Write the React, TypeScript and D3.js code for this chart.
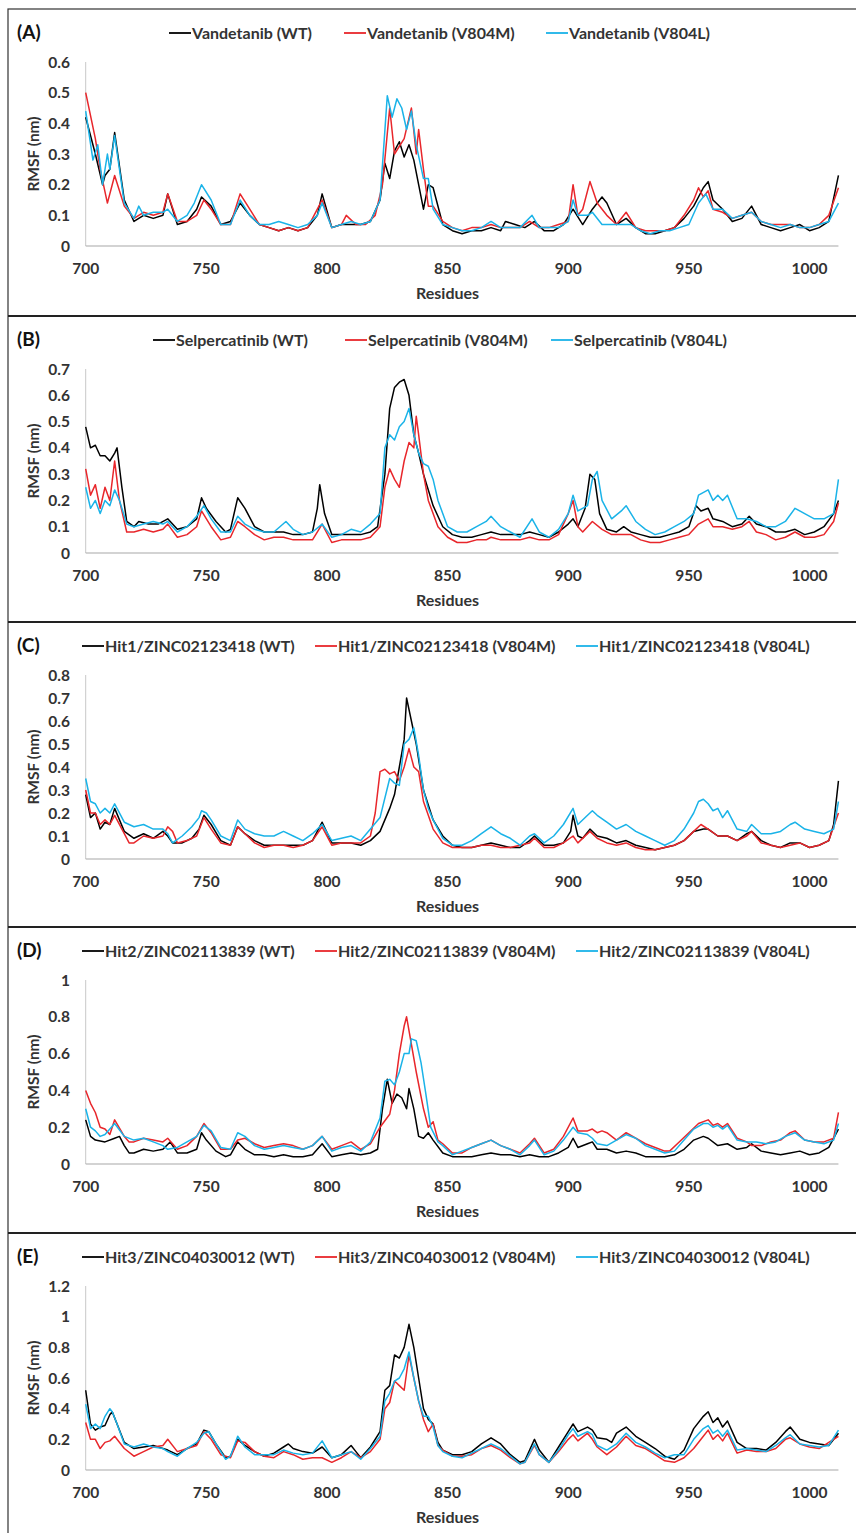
import * as d3 from "d3";
import { useEffect, useRef } from "react";

type Pt = [number, number];

// Residue / RMSF (nm) pairs
const vanWT: Pt[] = [[700,0.42],[704,0.3],[707,0.2],[708,0.23],[710,0.25],[712,0.37],[716,0.15],[720,0.08],[724,0.1],[728,0.09],[732,0.1],[734,0.17],[738,0.07],[742,0.08],[746,0.12],[748,0.16],[752,0.13],[756,0.07],[760,0.08],[764,0.14],[768,0.1],[772,0.07],[776,0.06],[780,0.05],[784,0.06],[788,0.05],[792,0.06],[796,0.1],[798,0.17],[802,0.06],[806,0.07],[810,0.07],[814,0.07],[818,0.08],[822,0.15],[824,0.27],[826,0.22],[828,0.31],[830,0.34],[832,0.29],[834,0.33],[836,0.28],[838,0.2],[840,0.12],[842,0.2],[844,0.19],[848,0.07],[852,0.05],[856,0.04],[860,0.05],[864,0.05],[868,0.06],[872,0.05],[874,0.08],[878,0.07],[882,0.06],[886,0.08],[890,0.05],[894,0.05],[898,0.07],[902,0.12],[906,0.07],[910,0.12],[914,0.16],[916,0.14],[920,0.07],[924,0.09],[928,0.06],[932,0.04],[936,0.04],[940,0.05],[944,0.06],[948,0.09],[952,0.13],[956,0.19],[958,0.21],[960,0.15],[964,0.12],[968,0.08],[972,0.09],[976,0.13],[980,0.07],[984,0.06],[988,0.05],[992,0.06],[996,0.07],[1000,0.05],[1004,0.06],[1008,0.08],[1012,0.23]];
const vanM: Pt[] = [[700,0.5],[704,0.35],[706,0.25],[709,0.14],[712,0.23],[716,0.13],[720,0.09],[724,0.11],[728,0.1],[732,0.11],[734,0.17],[738,0.08],[742,0.08],[746,0.1],[749,0.15],[752,0.12],[756,0.07],[760,0.07],[764,0.17],[768,0.12],[772,0.07],[776,0.06],[780,0.05],[784,0.06],[788,0.05],[792,0.06],[796,0.12],[798,0.15],[802,0.06],[806,0.07],[808,0.1],[812,0.07],[816,0.07],[820,0.1],[823,0.2],[826,0.45],[828,0.3],[832,0.35],[835,0.45],[837,0.3],[838,0.38],[840,0.25],[842,0.13],[844,0.13],[848,0.08],[852,0.06],[856,0.05],[860,0.06],[864,0.06],[868,0.07],[872,0.06],[876,0.06],[880,0.06],[884,0.08],[888,0.06],[892,0.06],[896,0.07],[900,0.08],[902,0.2],[904,0.1],[906,0.12],[909,0.21],[912,0.14],[916,0.1],[920,0.07],[924,0.11],[928,0.06],[932,0.05],[936,0.05],[940,0.05],[944,0.06],[948,0.1],[952,0.15],[954,0.19],[956,0.16],[958,0.18],[960,0.12],[964,0.11],[968,0.09],[972,0.1],[976,0.11],[980,0.08],[984,0.07],[988,0.07],[992,0.07],[996,0.06],[1000,0.06],[1004,0.07],[1008,0.1],[1012,0.19]];
const vanL: Pt[] = [[700,0.44],[703,0.28],[705,0.33],[707,0.2],[709,0.3],[710,0.25],[712,0.36],[716,0.14],[720,0.09],[722,0.13],[724,0.1],[728,0.11],[732,0.11],[734,0.12],[738,0.08],[742,0.1],[745,0.14],[748,0.2],[752,0.15],[756,0.07],[760,0.07],[764,0.15],[768,0.1],[772,0.07],[776,0.07],[780,0.08],[784,0.07],[788,0.06],[792,0.07],[796,0.1],[798,0.14],[802,0.06],[806,0.07],[810,0.08],[814,0.07],[818,0.08],[822,0.15],[825,0.49],[827,0.42],[829,0.48],[831,0.45],[833,0.38],[835,0.44],[837,0.33],[840,0.22],[842,0.22],[844,0.12],[848,0.07],[852,0.06],[856,0.05],[860,0.05],[864,0.06],[868,0.08],[872,0.06],[876,0.06],[880,0.06],[885,0.1],[888,0.06],[892,0.06],[896,0.06],[900,0.08],[902,0.15],[904,0.1],[908,0.1],[910,0.11],[914,0.07],[918,0.07],[922,0.07],[926,0.07],[930,0.05],[934,0.04],[938,0.05],[942,0.05],[946,0.06],[950,0.07],[954,0.14],[957,0.17],[960,0.12],[964,0.12],[968,0.09],[972,0.1],[976,0.11],[980,0.08],[984,0.07],[988,0.06],[992,0.07],[996,0.06],[1000,0.06],[1004,0.07],[1008,0.08],[1012,0.14]];

const selWT: Pt[] = [[700,0.48],[702,0.4],[704,0.41],[706,0.37],[708,0.37],[710,0.35],[712,0.38],[713,0.4],[715,0.25],[717,0.12],[720,0.1],[722,0.12],[726,0.11],[730,0.11],[734,0.13],[738,0.09],[742,0.1],[746,0.13],[748,0.21],[750,0.17],[754,0.12],[758,0.08],[760,0.09],[763,0.21],[766,0.17],[770,0.1],[774,0.08],[778,0.08],[782,0.08],[786,0.07],[790,0.07],[794,0.08],[796,0.17],[797,0.26],[799,0.15],[802,0.07],[806,0.07],[810,0.07],[814,0.07],[818,0.08],[821,0.1],[824,0.3],[826,0.55],[828,0.63],[830,0.65],[832,0.66],[834,0.6],[836,0.45],[838,0.38],[840,0.3],[844,0.18],[848,0.1],[852,0.07],[856,0.06],[860,0.06],[864,0.07],[868,0.08],[872,0.07],[876,0.07],[880,0.07],[884,0.08],[888,0.07],[892,0.06],[896,0.08],[900,0.11],[902,0.13],[904,0.1],[907,0.17],[909,0.3],[911,0.28],[913,0.15],[916,0.09],[920,0.08],[923,0.1],[926,0.08],[930,0.07],[934,0.06],[938,0.06],[942,0.07],[946,0.08],[950,0.1],[953,0.18],[955,0.16],[958,0.17],[960,0.13],[964,0.12],[968,0.1],[972,0.11],[975,0.14],[978,0.11],[982,0.1],[986,0.08],[990,0.08],[994,0.09],[998,0.07],[1002,0.08],[1006,0.1],[1010,0.15],[1012,0.2]];
const selM: Pt[] = [[700,0.32],[702,0.22],[704,0.26],[706,0.17],[708,0.25],[710,0.2],[712,0.35],[714,0.2],[717,0.08],[720,0.08],[724,0.09],[728,0.08],[732,0.09],[734,0.11],[738,0.06],[742,0.07],[746,0.1],[748,0.16],[752,0.1],[756,0.05],[760,0.06],[763,0.12],[766,0.1],[770,0.07],[774,0.05],[778,0.06],[782,0.06],[786,0.05],[790,0.05],[794,0.05],[798,0.11],[802,0.04],[806,0.05],[810,0.05],[814,0.05],[818,0.06],[822,0.1],[824,0.25],[826,0.32],[828,0.28],[830,0.25],[832,0.35],[834,0.42],[836,0.4],[837,0.52],[838,0.45],[840,0.3],[842,0.2],[846,0.1],[850,0.06],[854,0.04],[858,0.04],[862,0.05],[866,0.05],[868,0.06],[872,0.05],[876,0.05],[880,0.05],[884,0.06],[888,0.05],[892,0.05],[896,0.07],[900,0.15],[902,0.2],[904,0.1],[906,0.08],[910,0.12],[914,0.09],[918,0.07],[922,0.07],[926,0.07],[930,0.05],[934,0.04],[938,0.04],[942,0.05],[946,0.06],[950,0.07],[954,0.11],[958,0.13],[960,0.1],[964,0.1],[968,0.09],[972,0.1],[975,0.12],[978,0.08],[982,0.07],[986,0.05],[990,0.06],[994,0.08],[998,0.06],[1002,0.06],[1006,0.07],[1010,0.12],[1012,0.19]];
const selL: Pt[] = [[700,0.25],[702,0.17],[704,0.2],[706,0.15],[708,0.2],[710,0.18],[712,0.24],[714,0.2],[717,0.11],[720,0.1],[724,0.11],[728,0.12],[732,0.11],[734,0.12],[738,0.08],[742,0.1],[746,0.14],[749,0.18],[752,0.13],[756,0.08],[760,0.08],[763,0.14],[766,0.11],[770,0.09],[774,0.08],[778,0.08],[783,0.12],[786,0.09],[790,0.07],[794,0.08],[798,0.11],[802,0.06],[806,0.07],[810,0.09],[814,0.08],[818,0.11],[822,0.15],[824,0.4],[826,0.45],[828,0.43],[830,0.48],[832,0.5],[834,0.55],[836,0.45],[838,0.38],[840,0.34],[842,0.33],[844,0.28],[846,0.2],[850,0.1],[854,0.08],[858,0.08],[862,0.1],[866,0.12],[868,0.14],[872,0.1],[876,0.08],[880,0.06],[885,0.13],[888,0.08],[892,0.06],[896,0.09],[900,0.15],[902,0.22],[904,0.16],[908,0.18],[910,0.28],[912,0.31],[914,0.2],[918,0.13],[922,0.16],[924,0.18],[928,0.12],[932,0.09],[936,0.07],[940,0.08],[944,0.1],[948,0.12],[952,0.15],[954,0.22],[958,0.24],[960,0.2],[962,0.22],[964,0.2],[966,0.22],[970,0.13],[974,0.13],[978,0.12],[982,0.1],[986,0.1],[990,0.12],[994,0.17],[998,0.15],[1002,0.13],[1006,0.13],[1010,0.15],[1012,0.28]];

const hit1WT: Pt[] = [[700,0.28],[702,0.18],[704,0.2],[706,0.13],[708,0.16],[710,0.15],[712,0.22],[716,0.12],[720,0.09],[724,0.11],[728,0.09],[732,0.12],[734,0.1],[736,0.07],[740,0.07],[744,0.09],[747,0.13],[749,0.19],[752,0.15],[756,0.08],[760,0.06],[763,0.14],[766,0.11],[770,0.08],[774,0.06],[778,0.06],[782,0.06],[786,0.06],[790,0.06],[794,0.08],[798,0.16],[802,0.07],[806,0.07],[810,0.07],[814,0.06],[818,0.08],[822,0.12],[826,0.22],[828,0.28],[830,0.4],[832,0.52],[833,0.7],[835,0.6],[837,0.5],[840,0.3],[844,0.17],[848,0.1],[852,0.06],[856,0.05],[860,0.05],[864,0.06],[868,0.07],[872,0.06],[876,0.05],[880,0.05],[884,0.08],[886,0.1],[890,0.06],[894,0.06],[898,0.07],[901,0.12],[902,0.19],[904,0.1],[906,0.09],[909,0.13],[912,0.1],[916,0.09],[920,0.07],[924,0.08],[928,0.06],[932,0.05],[936,0.04],[940,0.05],[944,0.06],[948,0.08],[952,0.12],[956,0.13],[958,0.13],[962,0.1],[966,0.1],[970,0.08],[974,0.11],[976,0.12],[980,0.08],[984,0.06],[988,0.05],[992,0.07],[996,0.07],[1000,0.05],[1004,0.06],[1008,0.08],[1010,0.15],[1012,0.34]];
const hit1M: Pt[] = [[700,0.3],[702,0.2],[704,0.2],[706,0.15],[708,0.17],[710,0.15],[712,0.19],[716,0.11],[718,0.07],[720,0.07],[724,0.1],[728,0.09],[732,0.1],[734,0.14],[736,0.12],[738,0.07],[742,0.08],[746,0.1],[749,0.18],[752,0.13],[756,0.07],[760,0.06],[763,0.14],[766,0.11],[770,0.07],[774,0.05],[778,0.06],[782,0.06],[786,0.05],[790,0.06],[794,0.08],[798,0.14],[802,0.06],[806,0.07],[810,0.07],[814,0.07],[818,0.1],[820,0.2],[822,0.38],[824,0.39],[826,0.37],[828,0.38],[830,0.34],[832,0.4],[834,0.48],[836,0.4],[838,0.38],[840,0.25],[844,0.13],[848,0.07],[852,0.05],[856,0.05],[860,0.05],[864,0.06],[868,0.06],[872,0.05],[876,0.05],[880,0.06],[884,0.07],[886,0.09],[890,0.05],[894,0.05],[898,0.07],[902,0.1],[904,0.07],[909,0.12],[912,0.09],[916,0.07],[920,0.06],[924,0.07],[928,0.05],[932,0.04],[936,0.04],[940,0.05],[944,0.06],[948,0.08],[952,0.12],[955,0.15],[958,0.13],[962,0.1],[966,0.1],[970,0.08],[974,0.1],[976,0.12],[980,0.07],[984,0.06],[988,0.05],[992,0.06],[996,0.07],[1000,0.05],[1004,0.06],[1008,0.08],[1010,0.14],[1012,0.2]];
const hit1L: Pt[] = [[700,0.35],[702,0.25],[704,0.24],[706,0.2],[708,0.22],[710,0.2],[712,0.24],[716,0.16],[720,0.14],[724,0.15],[728,0.13],[732,0.13],[734,0.11],[736,0.07],[740,0.1],[744,0.14],[747,0.18],[748,0.21],[750,0.2],[752,0.17],[756,0.1],[760,0.08],[763,0.17],[766,0.13],[770,0.11],[774,0.1],[778,0.1],[782,0.12],[786,0.1],[790,0.08],[794,0.11],[798,0.15],[802,0.08],[806,0.09],[810,0.1],[814,0.08],[818,0.13],[822,0.18],[826,0.35],[828,0.33],[830,0.32],[832,0.5],[834,0.52],[836,0.57],[838,0.45],[840,0.3],[842,0.22],[844,0.17],[848,0.09],[852,0.06],[856,0.06],[860,0.08],[864,0.11],[868,0.14],[872,0.11],[876,0.09],[880,0.06],[884,0.1],[886,0.11],[890,0.07],[894,0.1],[898,0.15],[902,0.22],[904,0.15],[908,0.19],[910,0.21],[912,0.19],[916,0.16],[920,0.13],[924,0.15],[928,0.12],[932,0.1],[936,0.08],[940,0.06],[944,0.08],[948,0.13],[952,0.2],[954,0.25],[956,0.26],[958,0.24],[960,0.21],[962,0.22],[964,0.18],[966,0.21],[970,0.13],[974,0.12],[976,0.15],[980,0.11],[984,0.11],[988,0.12],[992,0.15],[994,0.16],[998,0.13],[1002,0.12],[1006,0.11],[1010,0.13],[1012,0.25]];

const hit2WT: Pt[] = [[700,0.24],[702,0.15],[704,0.13],[708,0.12],[712,0.14],[714,0.15],[716,0.1],[718,0.06],[720,0.06],[724,0.08],[728,0.07],[732,0.08],[735,0.12],[738,0.06],[742,0.06],[746,0.08],[748,0.17],[750,0.13],[754,0.07],[758,0.04],[760,0.05],[763,0.12],[766,0.08],[770,0.05],[774,0.05],[778,0.04],[782,0.05],[786,0.04],[790,0.04],[794,0.05],[798,0.11],[802,0.04],[806,0.05],[810,0.06],[814,0.05],[818,0.06],[821,0.08],[823,0.3],[825,0.46],[827,0.33],[829,0.38],[831,0.36],[833,0.3],[834,0.41],[836,0.3],[838,0.15],[840,0.14],[842,0.17],[844,0.13],[848,0.06],[852,0.04],[856,0.04],[860,0.04],[864,0.05],[868,0.06],[872,0.05],[876,0.05],[880,0.04],[884,0.05],[888,0.04],[892,0.04],[896,0.06],[900,0.09],[902,0.14],[904,0.09],[908,0.11],[910,0.12],[912,0.08],[916,0.08],[920,0.06],[924,0.07],[928,0.06],[932,0.04],[936,0.04],[940,0.04],[944,0.05],[948,0.08],[952,0.13],[956,0.15],[958,0.14],[962,0.1],[966,0.11],[970,0.08],[974,0.09],[976,0.11],[980,0.07],[984,0.06],[988,0.05],[992,0.06],[996,0.07],[1000,0.05],[1004,0.06],[1008,0.09],[1012,0.19]];
const hit2M: Pt[] = [[700,0.4],[702,0.33],[704,0.28],[706,0.2],[708,0.19],[710,0.16],[712,0.24],[716,0.15],[718,0.12],[720,0.12],[724,0.14],[728,0.13],[732,0.12],[734,0.14],[738,0.08],[742,0.1],[746,0.15],[749,0.22],[752,0.17],[756,0.08],[760,0.08],[763,0.13],[766,0.14],[770,0.11],[774,0.09],[778,0.1],[782,0.11],[786,0.1],[790,0.08],[794,0.1],[798,0.15],[802,0.08],[806,0.1],[810,0.12],[814,0.08],[818,0.11],[822,0.2],[826,0.27],[828,0.4],[830,0.6],[832,0.75],[833,0.8],[835,0.65],[837,0.5],[840,0.3],[842,0.2],[844,0.23],[846,0.13],[848,0.11],[852,0.06],[856,0.06],[860,0.09],[864,0.11],[868,0.13],[872,0.1],[876,0.08],[880,0.06],[884,0.11],[886,0.14],[890,0.06],[894,0.08],[898,0.15],[902,0.25],[904,0.18],[908,0.18],[910,0.19],[912,0.17],[914,0.18],[916,0.17],[920,0.13],[924,0.17],[928,0.14],[932,0.11],[936,0.09],[940,0.07],[942,0.07],[946,0.12],[950,0.17],[954,0.22],[958,0.24],[960,0.21],[962,0.22],[964,0.2],[966,0.22],[970,0.14],[974,0.12],[976,0.1],[980,0.1],[984,0.12],[988,0.13],[992,0.17],[994,0.18],[998,0.13],[1002,0.12],[1006,0.12],[1010,0.14],[1012,0.28]];
const hit2L: Pt[] = [[700,0.3],[702,0.2],[704,0.18],[706,0.15],[708,0.16],[712,0.22],[716,0.15],[720,0.13],[724,0.14],[728,0.12],[732,0.1],[734,0.08],[738,0.09],[742,0.12],[746,0.15],[749,0.21],[752,0.18],[756,0.09],[760,0.08],[763,0.17],[766,0.15],[770,0.1],[774,0.08],[778,0.09],[782,0.1],[786,0.09],[790,0.08],[794,0.1],[798,0.15],[802,0.07],[806,0.09],[810,0.1],[814,0.07],[818,0.12],[822,0.25],[824,0.45],[826,0.46],[828,0.43],[830,0.5],[832,0.6],[834,0.6],[835,0.68],[837,0.67],[839,0.55],[841,0.38],[843,0.2],[846,0.12],[848,0.1],[852,0.05],[856,0.07],[860,0.09],[864,0.11],[868,0.13],[872,0.1],[876,0.08],[880,0.05],[884,0.1],[886,0.13],[890,0.05],[894,0.07],[898,0.13],[902,0.2],[904,0.17],[908,0.16],[910,0.14],[912,0.11],[916,0.1],[920,0.13],[924,0.16],[928,0.14],[932,0.1],[936,0.08],[940,0.06],[944,0.07],[948,0.13],[952,0.19],[956,0.22],[958,0.22],[960,0.2],[962,0.21],[964,0.19],[966,0.21],[970,0.13],[974,0.12],[978,0.12],[982,0.11],[986,0.12],[990,0.15],[994,0.17],[998,0.13],[1002,0.12],[1006,0.11],[1010,0.13],[1012,0.22]];

const hit3WT: Pt[] = [[700,0.52],[702,0.3],[704,0.26],[706,0.28],[708,0.29],[710,0.36],[711,0.38],[713,0.3],[716,0.18],[720,0.14],[724,0.15],[728,0.16],[732,0.14],[734,0.13],[738,0.1],[742,0.14],[746,0.17],[749,0.26],[751,0.25],[754,0.17],[758,0.08],[760,0.09],[763,0.2],[766,0.16],[770,0.12],[774,0.09],[778,0.11],[782,0.15],[784,0.17],[786,0.14],[790,0.12],[794,0.11],[798,0.15],[802,0.08],[806,0.1],[810,0.16],[812,0.12],[814,0.08],[818,0.15],[822,0.25],[824,0.52],[826,0.55],[828,0.75],[830,0.73],[832,0.8],[834,0.95],[836,0.8],[838,0.6],[840,0.4],[842,0.33],[844,0.3],[846,0.18],[848,0.13],[852,0.1],[856,0.1],[860,0.12],[864,0.17],[868,0.21],[872,0.17],[876,0.1],[880,0.05],[882,0.06],[886,0.2],[888,0.13],[892,0.05],[896,0.15],[900,0.25],[902,0.3],[904,0.25],[908,0.28],[910,0.26],[912,0.21],[916,0.2],[918,0.18],[920,0.24],[924,0.28],[928,0.22],[932,0.18],[936,0.14],[940,0.09],[944,0.07],[948,0.13],[952,0.27],[956,0.35],[958,0.38],[960,0.31],[962,0.34],[964,0.28],[966,0.32],[970,0.18],[974,0.14],[978,0.14],[982,0.13],[986,0.18],[990,0.25],[992,0.28],[996,0.2],[1000,0.18],[1004,0.17],[1008,0.16],[1012,0.24]];
const hit3M: Pt[] = [[700,0.31],[702,0.2],[704,0.2],[706,0.14],[708,0.18],[710,0.19],[712,0.22],[716,0.14],[720,0.09],[724,0.12],[728,0.15],[732,0.16],[734,0.2],[738,0.12],[742,0.14],[746,0.16],[749,0.25],[752,0.2],[756,0.1],[760,0.08],[763,0.19],[766,0.18],[770,0.12],[774,0.09],[778,0.08],[782,0.12],[786,0.1],[790,0.07],[794,0.08],[798,0.08],[802,0.05],[806,0.08],[810,0.12],[814,0.08],[818,0.12],[822,0.2],[824,0.4],[826,0.44],[828,0.58],[830,0.55],[832,0.52],[834,0.75],[836,0.6],[838,0.45],[840,0.33],[842,0.25],[844,0.3],[846,0.16],[848,0.13],[852,0.09],[856,0.09],[860,0.1],[864,0.14],[868,0.16],[872,0.13],[876,0.08],[880,0.04],[882,0.05],[886,0.16],[888,0.1],[892,0.05],[896,0.12],[900,0.2],[902,0.23],[904,0.19],[908,0.24],[910,0.2],[912,0.15],[916,0.1],[920,0.15],[924,0.22],[928,0.16],[932,0.14],[936,0.1],[940,0.06],[944,0.05],[948,0.08],[952,0.14],[956,0.22],[958,0.26],[960,0.2],[962,0.23],[964,0.19],[966,0.24],[970,0.11],[974,0.13],[978,0.12],[982,0.12],[986,0.14],[990,0.2],[992,0.21],[996,0.17],[1000,0.15],[1004,0.14],[1008,0.18],[1012,0.22]];
const hit3L: Pt[] = [[700,0.43],[702,0.27],[704,0.3],[706,0.27],[708,0.35],[710,0.4],[711,0.38],[713,0.3],[716,0.17],[720,0.15],[724,0.17],[728,0.15],[732,0.14],[734,0.12],[738,0.09],[742,0.14],[746,0.18],[749,0.24],[751,0.25],[754,0.17],[758,0.07],[760,0.09],[763,0.22],[766,0.15],[770,0.1],[774,0.1],[778,0.1],[782,0.13],[786,0.11],[790,0.1],[794,0.11],[798,0.19],[802,0.08],[806,0.1],[810,0.12],[814,0.07],[818,0.14],[822,0.22],[824,0.45],[826,0.5],[828,0.58],[830,0.6],[832,0.66],[834,0.77],[836,0.6],[838,0.45],[840,0.35],[842,0.35],[844,0.28],[846,0.16],[848,0.12],[852,0.09],[856,0.08],[860,0.11],[864,0.14],[868,0.17],[872,0.14],[876,0.09],[880,0.04],[882,0.05],[886,0.17],[888,0.1],[892,0.05],[896,0.13],[900,0.23],[902,0.27],[904,0.22],[908,0.25],[910,0.23],[912,0.16],[916,0.13],[920,0.17],[924,0.24],[928,0.18],[932,0.15],[936,0.11],[940,0.08],[944,0.1],[948,0.1],[952,0.2],[956,0.27],[958,0.29],[960,0.24],[962,0.26],[964,0.22],[966,0.26],[970,0.13],[974,0.14],[978,0.13],[982,0.12],[986,0.16],[990,0.21],[992,0.23],[996,0.17],[1000,0.16],[1004,0.15],[1008,0.16],[1012,0.26]];

const panelTags = ["(A)", "(B)", "(C)", "(D)", "(E)"];
const ligands = ["Vandetanib", "Selpercatinib", "Hit1/ZINC02123418", "Hit2/ZINC02113839", "Hit3/ZINC04030012"];
const variants = ["WT", "V804M", "V804L"];
const yMaxes = [0.6, 0.7, 0.8, 1, 1.2];
const yStepsPerPanel = [0.1, 0.1, 0.1, 0.2, 0.2];
const xTicks = [700, 750, 800, 850, 900, 950, 1000];
const seriesByPanel: Pt[][][] = [
    [vanWT, vanM, vanL],
    [selWT, selM, selL],
    [hit1WT, hit1M, hit1L],
    [hit2WT, hit2M, hit2L],
    [hit3WT, hit3M, hit3L],
];

const colors = ["#000000", "#e8262b", "#1ab3e8"];
const panelTops = [9, 316, 622, 927, 1233];
// legend line start x and text width for each item
const legendX = [
    [169, 344, 546],
    [153, 345, 551],
    [82, 315, 576],
    [82, 315, 576],
    [82, 315, 576],
];
const FONT = "Lato, 'Open Sans', sans-serif";

function draw(svgEl: SVGSVGElement) {
    const svg = d3.select(svgEl);
    svg.selectAll("*").remove();

    const x = d3.scaleLinear().domain([700, 1000]).range([85.7, 809.5]);
    const xEnd = 1012;

    svg.append("rect")
        .attr("x", 8).attr("y", 9)
        .attr("width", 860).attr("height", 1530)
        .attr("fill", "none").attr("stroke", "#333").attr("stroke-width", 1.2);

    panelTops.forEach((top, i) => {
        if (i > 0) {
            svg.append("line")
                .attr("x1", 8).attr("x2", 856)
                .attr("y1", top).attr("y2", top)
                .attr("stroke", "#222").attr("stroke-width", 2.2);
        }
        const g = svg.append("g").attr("transform", `translate(0,${top})`);
        const y = d3.scaleLinear().domain([0, yMaxes[i]]).range([237, 53]);

        const step = yStepsPerPanel[i];
        const yTicks = d3.range(0, yMaxes[i] + step / 2, step).map((v) => +v.toFixed(1));

        g.append("line")
            .attr("x1", x(700)).attr("x2", x(700))
            .attr("y1", y(yMaxes[i])).attr("y2", y(0))
            .attr("stroke", "#c8c8c8").attr("stroke-width", 1);
        g.append("line")
            .attr("x1", x(700)).attr("x2", x(xEnd))
            .attr("y1", y(0)).attr("y2", y(0))
            .attr("stroke", "#a8a8a8").attr("stroke-width", 1.2);

        g.selectAll(".yt")
            .data(yTicks)
            .join("text")
            .attr("x", 70)
            .attr("y", (d) => y(d) + 5.5)
            .attr("text-anchor", "end")
            .style("font-family", FONT)
            .style("font-size", "15.5px")
            .style("font-weight", "bold")
            .style("fill", "#333")
            .text((d) => String(d));

        g.selectAll(".xt")
            .data(xTicks)
            .join("text")
            .attr("x", (d) => x(d))
            .attr("y", 265)
            .attr("text-anchor", "middle")
            .style("font-family", FONT)
            .style("font-size", "15.5px")
            .style("font-weight", "bold")
            .style("fill", "#333")
            .text((d) => String(d));

        g.append("text")
            .attr("transform", `translate(39,${(y(0) + y(yMaxes[i])) / 2}) rotate(-90)`)
            .attr("text-anchor", "middle")
            .style("font-family", FONT)
            .style("font-size", "15.5px")
            .style("font-weight", "bold")
            .style("fill", "#333")
            .text("RMSF (nm)");

        g.append("text")
            .attr("x", x(850))
            .attr("y", 290)
            .attr("text-anchor", "middle")
            .style("font-family", FONT)
            .style("font-size", "16px")
            .style("font-weight", "bold")
            .style("fill", "#333")
            .text("Residues");

        g.append("text")
            .attr("x", 17)
            .attr("y", 30)
            .style("font-family", FONT)
            .style("font-size", "19px")
            .style("font-weight", "bold")
            .style("fill", "#111")
            .text(panelTags[i]);

        const line = d3.line<Pt>()
            .x((d) => x(d[0]))
            .y((d) => y(d[1]));

        seriesByPanel[i].forEach((s, k) => {
            g.append("path")
                .datum(s)
                .attr("d", line)
                .attr("fill", "none")
                .attr("stroke", colors[k])
                .attr("stroke-width", 1.5)
                .attr("stroke-linejoin", "round");
        });

        variants.forEach((v, k) => {
            const lx = legendX[i][k];
            g.append("line")
                .attr("x1", lx).attr("x2", lx + 22)
                .attr("y1", 24).attr("y2", 24)
                .attr("stroke", colors[k]).attr("stroke-width", 1.8);
            g.append("text")
                .attr("x", lx + 23)
                .attr("y", 29.5)
                .style("font-family", FONT)
                .style("font-size", "16px")
                .style("font-weight", "bold")
                .style("fill", "#333")
                .text(`${ligands[i]} (${v})`);
        });
    });
}

export default function App() {
    const ref = useRef<SVGSVGElement | null>(null);
    useEffect(() => {
        document.body.style.margin = "0";
        if (ref.current) draw(ref.current);
    }, []);
    return (
        <div style={{ background: "#fff" }}>
            <svg ref={ref} width={856} height={1533} style={{ display: "block" }}></svg>
        </div>
    );
}
